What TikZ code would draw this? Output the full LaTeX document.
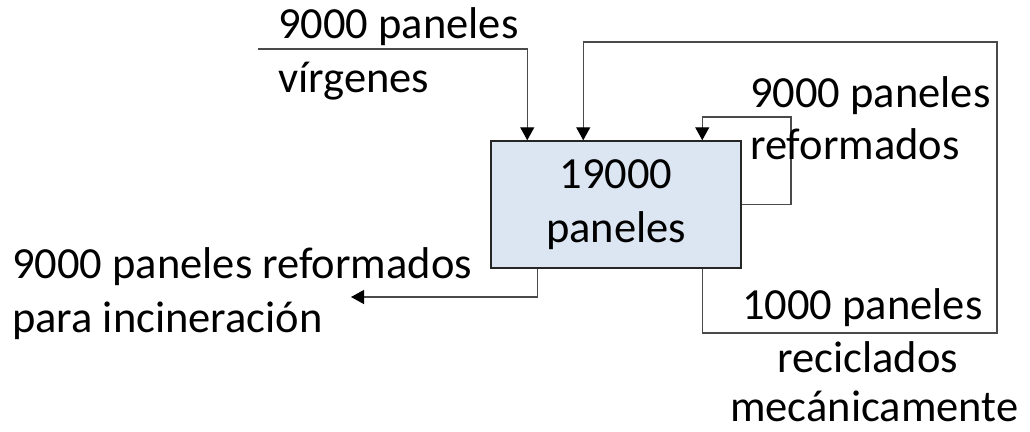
\documentclass[tikz,border=0pt]{standalone}
\usepackage{fontspec}
\setmainfont{Carlito}
\usetikzlibrary{arrows.meta,calc}
\definecolor{boxfill}{HTML}{DCE6F2}
\definecolor{boxedge}{HTML}{262626}
\definecolor{linegray}{HTML}{4A4A4A}
\begin{document}
\begin{tikzpicture}[x=1pt,y=-1pt,
  lbl/.style={anchor=base west,inner sep=0pt,font=\fontsize{44.5}{54}\selectfont},
  flow/.style={draw=linegray,line width=1.3pt},
  tip/.style={-{Triangle[width=14pt,length=13pt,color=black]}},
  block/.style={draw=boxedge,line width=1.5pt,fill=boxfill,
    minimum width=250pt,minimum height=127pt,inner sep=0pt,align=center,
    font=\fontsize{44.5}{54}\selectfont}]
\useasboundingbox (0,0) rectangle (1030,431);

% process block
\node[block] (proc) at (616,204.5) {19000\\paneles};

% bend points of the connectors
\coordinate (vin)   at (258,49);
\coordinate (rcbot) at (997,333);
\coordinate (rctop) at (997,42);
\coordinate (selfc) at (791,117);
\coordinate (outc)  at (351,297);

% virgin panels in
\draw[flow,tip] (vin) -| ($(proc.north west)+(37,0)$);
% mechanically recycled panels back to the top
\draw[flow,tip] ($(proc.south west)+(212,0)$) |- (rcbot) -- (rctop)
  -| ($(proc.north west)+(93,0)$);
% refurbished panels loop
\draw[flow,tip] (proc.east) -| (selfc) -| ($(proc.north west)+(212,0)$);
% refurbished panels to incineration
\draw[flow,tip] ($(proc.south west)+(47,0)$) |- (outc);

% labels
\node[lbl] (l1a) at (278,38)  {9000 paneles};
\node[lbl] (l1b) at (278,92)  {vírgenes};
\node[lbl] (l2a) at (750,107) {9000 paneles};
\node[lbl] (l2b) at (750,159) {reformados};
\node[lbl] (l3a) at (742,319) {1000 paneles};
\node[lbl] (l3b) at (777,372) {reciclados};
\node[lbl] (l3c) at (730,421) {mecánicamente};
\node[lbl] (l4a) at (12,278)  {9000 paneles reformados};
\node[lbl] (l4b) at (12,332)  {para incineración};
\end{tikzpicture}
\end{document}
